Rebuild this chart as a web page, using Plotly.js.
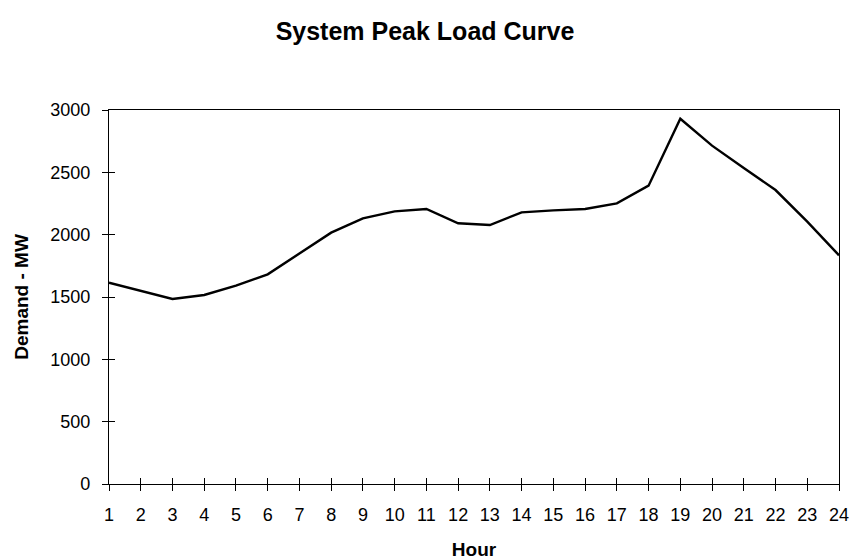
<!DOCTYPE html>
<html>
<head>
<meta charset="utf-8">
<script src="https://cdn.plot.ly/plotly-3.0.1.min.js"></script>
<style>html,body{margin:0;padding:0;background:#fff;}#chart{width:850px;height:560px;}</style>
</head>
<body>
<div id="chart"></div>
<script>
const hours = [1,2,3,4,5,6,7,8,9,10,11,12,13,14,15,16,17,18,19,20,21,22,23,24];
const demandMW = [1615,1550,1484,1516,1591,1682,1850,2016,2131,2187,2206,2091,2077,2179,2195,2206,2251,2393,2930,2714,2535,2358,2104,1834];
const yTicks = [0,500,1000,1500,2000,2500,3000];

const font = "Liberation Sans, Arial, sans-serif";

const trace = {
  x: hours, y: demandMW, type: 'scatter', mode: 'lines',
  line: {color: '#000', width: 2.4}, hoverinfo: 'x+y', showlegend: false
};

const layout = {
  width: 850, height: 560,
  margin: {l: 109, r: 11, t: 110, b: 76},
  paper_bgcolor: '#fff', plot_bgcolor: '#fff',
  font: {family: font, size: 18, color: '#000'},
  title: {text: '<b>System Peak Load Curve</b>', x: 0.5, xanchor: 'center', y: 0.945, yanchor: 'middle', font: {family: font, size: 25, color: '#000'}},
  xaxis: {
    range: [1, 24], tickmode: 'array', tickvals: hours, ticktext: hours.map(String),
    showgrid: false, zeroline: false, showline: true, linecolor: '#000', linewidth: 1.2, mirror: true,
    ticks: 'outside', ticklen: 6, tickcolor: '#000', tickwidth: 1, ticklabelstandoff: 8,
    tickfont: {family: font, size: 18, color: '#000'},
    title: {text: '<b>Hour</b>', font: {family: font, size: 19, color: '#000'}, standoff: 21}
  },
  yaxis: {
    range: [0, 3000], tickmode: 'array', tickvals: yTicks, ticktext: yTicks.map(String),
    showgrid: false, zeroline: false, showline: true, linecolor: '#000', linewidth: 1.2, mirror: true,
    ticks: 'outside', ticklen: 6, tickcolor: '#000', tickwidth: 1, ticklabelstandoff: 8,
    tickfont: {family: font, size: 18, color: '#000'},
    title: {text: '<b>Demand - MW</b>', font: {family: font, size: 19, color: '#000'}, standoff: 16}
  },
  xaxis2: {
    overlaying: 'x', matches: 'x', range: [1, 24], tickmode: 'array', tickvals: hours,
    showticklabels: false, showgrid: false, zeroline: false, showline: false,
    ticks: 'inside', ticklen: 6, tickcolor: '#000', tickwidth: 1, side: 'bottom'
  },
  yaxis2: {
    overlaying: 'y', matches: 'y', range: [0, 3000], tickmode: 'array', tickvals: yTicks,
    showticklabels: false, showgrid: false, zeroline: false, showline: false,
    ticks: 'inside', ticklen: 6, tickcolor: '#000', tickwidth: 1, side: 'left'
  }
};

const dummy = {x: [1], y: [0], xaxis: 'x2', yaxis: 'y2', type: 'scatter', mode: 'markers', marker: {opacity: 0}, hoverinfo: 'skip', showlegend: false};

Plotly.newPlot('chart', [dummy, trace], layout, {displayModeBar: false, staticPlot: true});
</script>
</body>
</html>
